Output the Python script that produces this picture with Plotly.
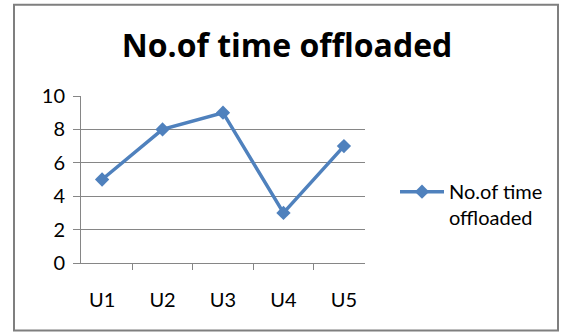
import plotly.graph_objects as go

categories = ["U1", "U2", "U3", "U4", "U5"]
values = [5, 8, 9, 3, 7]
series_name = "No.of time<br>offloaded"
title_text = "No.of time offloaded"
y_ticks = [0, 2, 4, 6, 8, 10]

W, H = 563, 333
L, R, T, B = 81, 365, 96, 262.7  # plot area in pixels

def px_x(px):
    return (px - L) / (R - L)

def px_y(py):
    return (B - py) / (B - T)

FONT = "Lato"
GRID = "#868686"
LINE = "#4F81BD"

fig = go.Figure()
fig.add_trace(go.Scatter(
    x=categories, y=values, name=series_name, mode="lines+markers",
    line=dict(color=LINE, width=3.5),
    marker=dict(symbol="diamond", size=11, color=LINE),
))

fig.update_layout(
    width=W, height=H,
    margin=dict(l=L, r=W - R, t=T, b=H - B),
    paper_bgcolor="white", plot_bgcolor="white",
    font=dict(family=FONT, color="black", size=20),
    title=dict(text="<b>" + title_text + "</b>", x=px_x(287), xref="paper",
               xanchor="center", y=1 - 46 / H, yanchor="middle", yref="container",
               font=dict(family="Open Sans", size=32, color="black")),
    showlegend=True,
    legend=dict(x=px_x(395), y=px_y(172), xanchor="left", yanchor="top",
                valign="top", font=dict(family=FONT, size=20, color="black"),
                bgcolor="rgba(0,0,0,0)", itemwidth=44, tracegroupgap=0),
    xaxis=dict(type="category", showgrid=False, showline=True, linecolor=GRID, linewidth=1,
               ticks="outside", tickson="boundaries", ticklen=6, tickcolor=GRID,
               ticklabelstandoff=19, tickfont=dict(size=20)),
    yaxis=dict(range=[0, 10], tickvals=y_ticks, showgrid=True, gridcolor=GRID, gridwidth=1,
               showline=True, linecolor=GRID, linewidth=1, zeroline=False,
               ticks="outside", ticklen=7, tickcolor=GRID, ticklabelstandoff=4,
               tickfont=dict(size=20)),
    shapes=[dict(type="rect", xref="paper", yref="paper",
                 x0=px_x(14), x1=px_x(558), y0=px_y(330), y1=px_y(5),
                 line=dict(color="#7f7f7f", width=2), layer="below")],
)

fig.write_html("out.html")
